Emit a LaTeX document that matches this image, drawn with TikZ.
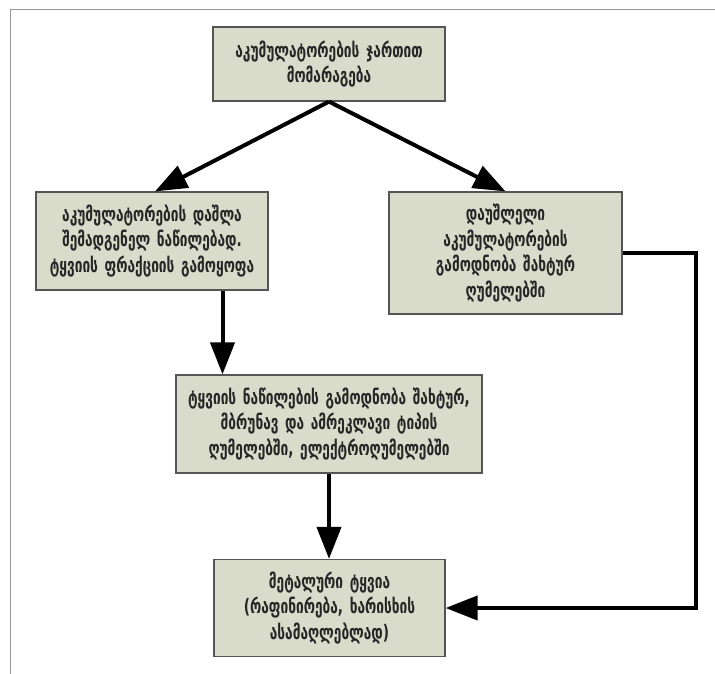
\documentclass[tikz,border=0pt]{standalone}
\usepackage{fontspec}
\setmainfont{DejaVu Sans Condensed}
\newfontfamily\boxfont[FakeStretch=0.76]{DejaVu Sans Condensed Bold}
\usetikzlibrary{arrows.meta}
\definecolor{boxfill}{RGB}{217,220,202}
\definecolor{boxline}{RGB}{85,85,85}
\definecolor{framegray}{RGB}{150,150,150}
\tikzset{
  stepbox/.style={draw=boxline, line width=1.2pt, fill=boxfill, align=center,
    inner sep=2pt, font=\boxfont\fontsize{20}{25.5}\selectfont, text=black!85},
  flow/.style={line width=4pt, -{Triangle[length=32pt,width=24pt]}}
}
\begin{document}
\begin{tikzpicture}[x=1pt,y=-1pt]
  \useasboundingbox (0,0) rectangle (715,674);
  \fill[white] (0,0) rectangle (715,674);
  % outer frame (top and left edges)
  \draw[framegray, line width=1pt] (10,674) -- (10,10) -- (715,10);

  \node[stepbox, minimum width=232pt, minimum height=74pt, text width=225pt] (b1) at (329,64)
    {აკუმულატორების ჯართით\\მომარაგება};
  \node[stepbox, minimum width=232pt, minimum height=98pt, text width=228pt] (b2) at (152,241)
    {აკუმულატორების დაშლა\\შემადგენელ ნაწილებად.\\ტყვიის ფრაქციის გამოყოფა};
  \node[stepbox, minimum width=233pt, minimum height=122pt, text width=228pt] (b3) at (505.5,253)
    {დაუშლელი\\აკუმულატორების\\გამოდნობა შახტურ\\ღუმელებში};
  \node[stepbox, minimum width=306pt, minimum height=98pt, text width=302pt] (b4) at (329,424)
    {ტყვიის ნაწილების გამოდნობა შახტურ,\\მბრუნავ და ამრეკლავი ტიპის\\ღუმელებში, ელექტროღუმელებში};
  \node[stepbox, minimum width=231pt, minimum height=97pt, text width=226pt] (b5) at (329.5,608)
    {მეტალური ტყვია\\(რაფინირება, ხარისხის\\ასამაღლებლად)};

  \coordinate (c1) at (696,253);
  \coordinate (c2) at (696,608);

  \draw[flow] (b1.south) -- ([xshift=3pt]b2.north);
  \draw[flow] (b1.south) -- (b3.north);
  \draw[flow] (222.5,0 |- b2.south) -- (222.5,0 |- b4.north);
  \draw[flow] (b4.south) -- (b4.south |- b5.north);
  \draw[flow] (b3.east) -- (c1) -- (c2) -- (b5.east);
\end{tikzpicture}
\end{document}
